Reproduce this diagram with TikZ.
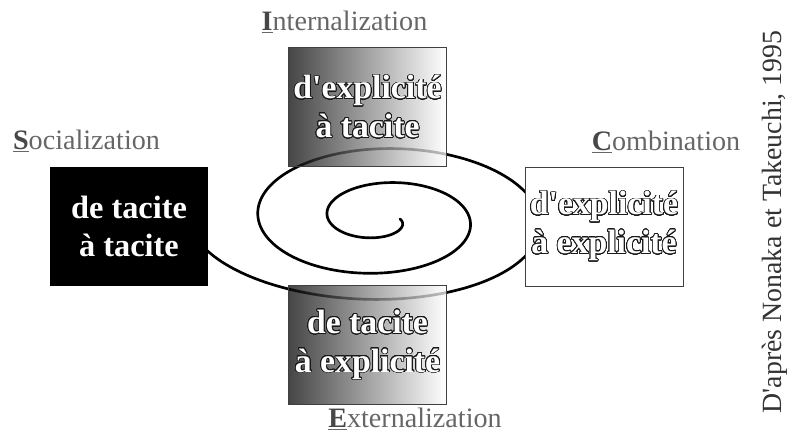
\documentclass[tikz,border=0pt]{standalone}
\usepackage{fontspec}
\setmainfont{Liberation Serif}
\usepackage{contour}
\contourlength{0.55pt}
\contournumber{32}
\usetikzlibrary{calc}
\tikzset{
  phase/.style={font=\fontsize{20}{24}\selectfont, text=black!60, inner sep=1pt},
  quadbox/.style={minimum width=3.95cm, minimum height=2.975cm, inner sep=0pt,
    align=center, font=\fontsize{23}{26.5}\selectfont\bfseries},
  fadebox/.style={quadbox, draw=black!75, line width=0.6pt, left color=black!97,
    right color=white, fill opacity=0.75, text opacity=1}
}
\newcommand{\outl}[1]{\contour{black!90}{\textcolor{white}{#1}}}
\newcommand{\initial}[1]{\underline{\textbf{\textcolor{black!72}{#1}}}}

\begin{document}
\begin{tikzpicture}[x=0.025cm, y=-0.025cm]
		%%%%% START %%%%%
		\useasboundingbox (0, 0) rectangle (800, 432);
		
		% spiral
		\draw[line width=1.9pt, line cap=round] plot[domain=0:880, samples=400, variable=\p]
			({381.5+(18.5+0.194*\p)*cos(\p)}, {219+(9+0.1*\p-(0.01*max(0,\p-500))^2)*sin(\p)});
		
		% the four boxes
		\node[quadbox, fill=black, text=white] (socbox) at (129, 226.5) {de tacite\\à tacite};
		\node[fadebox, font=\fontsize{24}{27.5}\selectfont\bfseries] (intbox) at (367.5, 107) {\outl{d\textquotesingle explicité}\\\outl{à tacite}};
		\node[quadbox, fill=white, draw=black!75, line width=0.6pt, font=\fontsize{24}{27.5}\selectfont\bfseries] (combox) at (604, 226.5) {\outl{d\textquotesingle explicité}\\\outl{à explicité}};
		\node[fadebox, font=\fontsize{24}{27.5}\selectfont\bfseries] (extbox) at (367.5, 345) {\outl{de tacite}\\\outl{à explicité}};
		
		% phase names
		\node[phase] (soclabel) at (86.5, 141) {\initial{S}ocialization};
		\node[phase] (intlabel) at (344.5, 22) {\initial{I}nternalization};
		\node[phase] (comlabel) at (666, 142) {\initial{C}ombination};
		\node[phase] (extlabel) at (415, 419) {\initial{E}xternalization};
		
		% source
		\node[rotate=90, font=\fontsize{19.8}{22}\selectfont, text=black!80] (source) at (775, 222) {D\textquotesingle après Nonaka et Takeuchi, 1995};
		%%%%% END %%%%%
\end{tikzpicture}
\end{document}
